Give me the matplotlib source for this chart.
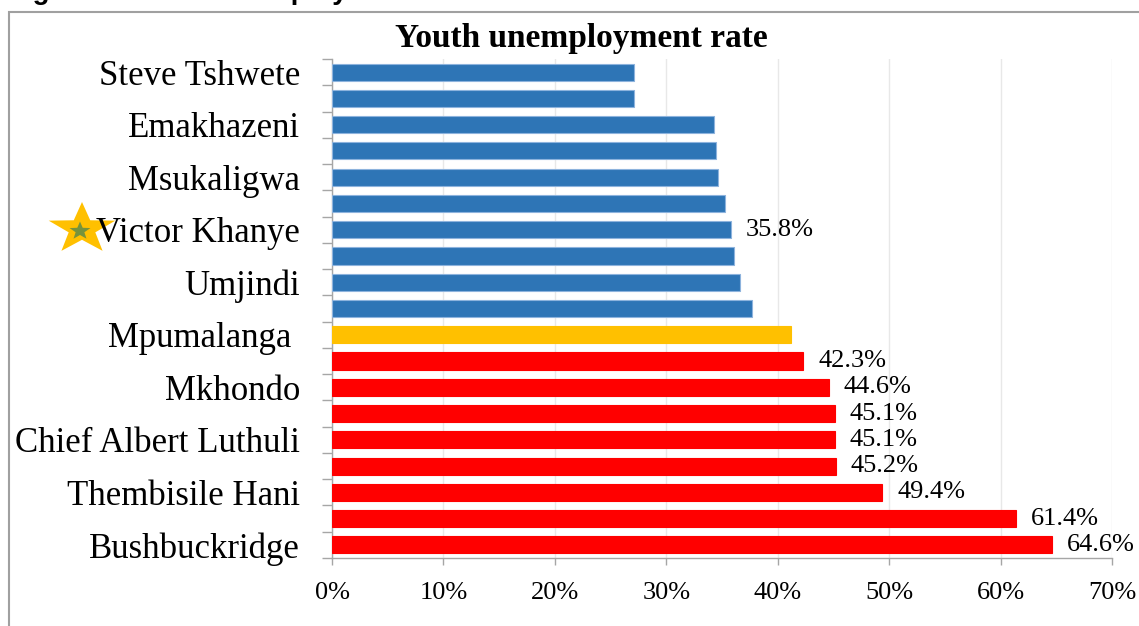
import numpy as np
import matplotlib.pyplot as plt
from matplotlib.patches import Polygon, Rectangle

# municipalities, top to bottom (only every other name is printed on the axis)
names = ["Steve Tshwete", "", "Emakhazeni", "", "Msukaligwa", "",
         "Victor Khanye", "", "Umjindi", "", "Mpumalanga ", "",
         "Mkhondo", "", "Chief Albert Luthuli", "", "Thembisile Hani", "",
         "Bushbuckridge"]
rates = [27.1, 27.1, 34.3, 34.5, 34.6, 35.3, 35.8, 36.1, 36.6, 37.7,
         41.2, 42.3, 44.6, 45.1, 45.1, 45.2, 49.4, 61.4, 64.6]
labelled = [6, 11, 12, 13, 14, 15, 16, 17, 18]
xticks = [0, 10, 20, 30, 40, 50, 60, 70]

W, H = 1139, 626
serif = "Liberation Serif"

province = rates[names.index("Mpumalanga ")]
colors = []
for i, r in enumerate(rates):
    if names[i].strip() == "Mpumalanga":
        colors.append("#FFC000")
    elif r < province:
        colors.append("#2E75B6")
    else:
        colors.append("#FF0000")
edges = ["#8DB3DD" if c == "#2E75B6" else c for c in colors]

fig = plt.figure(figsize=(W / 100, H / 100), dpi=100)
ax = fig.add_axes([332 / W, 1 - 558 / H, 780 / W, 499 / H])
ax.set_facecolor("none")

y = np.arange(len(rates))
ax.barh(y, rates, height=0.65, color=colors, edgecolor=edges, linewidth=0.8, zorder=3)

for i in labelled:
    ax.annotate(f"{rates[i]:.1f}%", (rates[i], y[i]), xytext=(15, 0),
                textcoords="offset pixels", va="center", ha="left",
                fontsize=19, family=serif, color="black")

ax.set_xlim(0, 70)
ax.set_ylim(len(rates) - 0.5, -0.5)
ax.set_xticks(xticks)
ax.set_xticklabels([f"{t}%" for t in xticks], fontsize=19, family=serif)
ax.set_yticks(y)
ax.set_yticklabels(names, fontsize=25, family=serif)
ax.set_yticks(np.arange(len(rates) + 1) - 0.5, minor=True)

ax.tick_params(axis="y", which="major", length=0, pad=23)
ax.tick_params(axis="y", which="minor", length=7, width=1, color="#A6A6A6")
ax.tick_params(axis="x", length=5, width=1, color="#A6A6A6", pad=12)
ax.grid(axis="x", color="#E8E8E8", linewidth=1, zorder=0)

for s in ["top", "right"]:
    ax.spines[s].set_visible(False)
for s in ["left", "bottom"]:
    ax.spines[s].set_color("#A6A6A6")
    ax.spines[s].set_linewidth(1)

fig.text(581 / W, 1 - 47 / H, "Youth unemployment rate", ha="center",
         va="baseline", fontsize=24, fontweight="bold", family=serif)

# caption of the figure, mostly above the page edge
fig.text(8 / W, 1 + 1 / H, "Figure 4: Youth unemployment rate", ha="left",
         va="baseline", fontsize=20, fontweight="bold", family="Liberation Sans")

# chart area frame
fig.add_artist(Rectangle((9 / W, -0.1), 1.2, 1.1 - 12 / H, transform=fig.transFigure,
                         fill=False, edgecolor="#A0A0A0", linewidth=1.5, zorder=-2))


def star(cx, cy, rx, ry, inner, color):
    a = np.pi / 2 + np.arange(10) * np.pi / 5
    r = np.where(np.arange(10) % 2 == 0, 1.0, inner)
    px = cx + rx * r * np.cos(a)
    py = (H - cy) + ry * r * np.sin(a)
    fig.add_artist(Polygon(np.column_stack([px / W, py / H]), closed=True,
                           transform=fig.transFigure, facecolor=color,
                           edgecolor="none", zorder=-1))


star(82, 229, 35, 27, 0.4, "#FFC000")
star(80, 231, 11, 9.5, 0.42, "#77933C")

fig.savefig("out.png", dpi=100)
